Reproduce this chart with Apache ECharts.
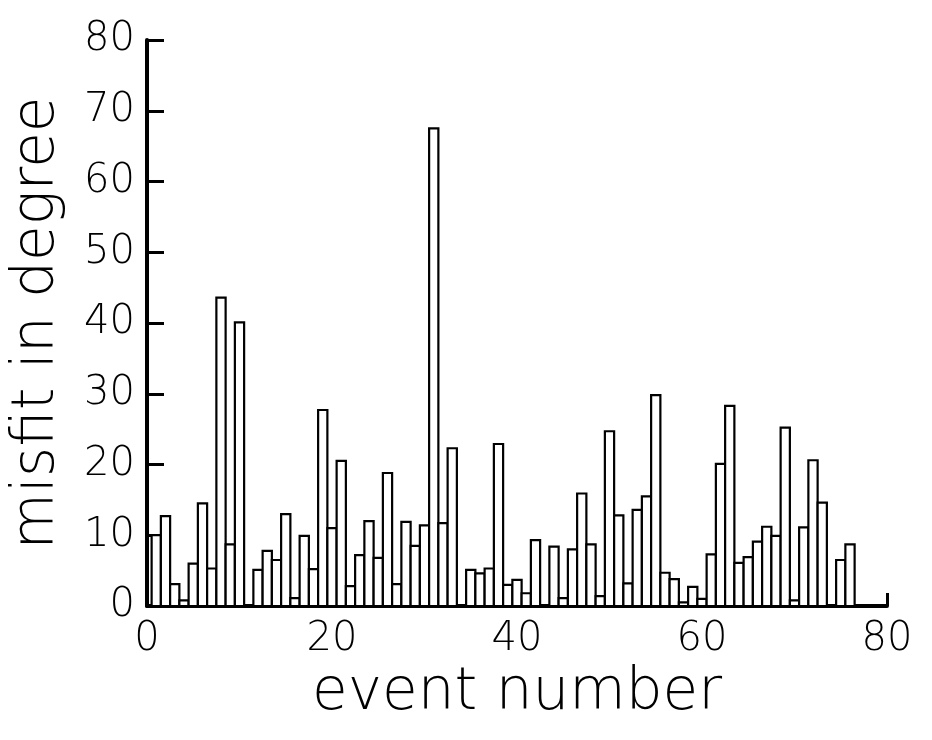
<!DOCTYPE html>
<html>
<head>
<meta charset="utf-8">
<script src="https://cdn.jsdelivr.net/npm/echarts@6/dist/echarts.min.js"></script>
<style>
html,body{margin:0;padding:0;background:#fff;}
#chart{width:932px;height:740px;}
</style>
</head>
<body>
<div id="chart"></div>
<script>
// Event numbers (x) and misfit values in degrees (y)
const events = [1,2,3,4,5,6,7,8,9,10,11,12,13,14,15,16,17,18,19,20,
  21,22,23,24,25,26,27,28,29,30,31,32,33,34,35,36,37,38,39,40,
  41,42,43,44,45,46,47,48,49,50,51,52,53,54,55,56,57,58,59,60,
  61,62,63,64,65,66,67,68,69,70,71,72,73,74,75,76];
const misfit = [10,12.7,3.1,0.8,6.0,14.5,5.3,43.6,8.7,40.1,
  0,5.1,7.8,6.5,13.0,1.1,9.9,5.2,27.7,11.0,
  20.5,2.8,7.2,12.0,6.8,18.8,3.1,11.9,8.5,11.4,
  67.5,11.7,22.3,0,5.1,4.6,5.3,22.9,3.0,3.7,
  1.8,9.3,0,8.4,1.1,8.0,15.9,8.7,1.4,24.7,
  12.8,3.2,13.6,15.5,29.8,4.7,3.8,0.5,2.7,1.0,
  7.3,20.1,28.3,6.1,6.9,9.1,11.2,9.9,25.2,0.8,
  11.1,20.6,14.6,0,6.5,8.7];
const xTicks = [0,20,40,60,80];
const yTicks = [0,10,20,30,40,50,60,70,80];

const data = events.map((e,i)=>[e, misfit[i]]);
const font = '"DejaVu Sans", sans-serif';

const chart = echarts.init(document.getElementById('chart'), null, {renderer:'canvas'});
chart.setOption({
  backgroundColor:'#fff',
  animation:false,
  grid:{left:147, right:45, top:40, bottom:134, containLabel:false, outerBoundsMode:'none'},
  xAxis:[{
    type:'value', min:xTicks[0], max:xTicks[xTicks.length-1], interval:xTicks[1]-xTicks[0],
    name:'event number', nameLocation:'middle', nameGap:50,
    nameTextStyle:{fontFamily:font, fontWeight:200, fontSize:58, color:'#000'},
    axisLine:{show:true, onZero:false, lineStyle:{color:'#000', width:4}},
    axisTick:{show:false},
    splitLine:{show:false},
    axisLabel:{fontFamily:font, fontWeight:200, fontSize:40, color:'#000', margin:14}
  },{
    type:'value', min:xTicks[0], max:xTicks[xTicks.length-1], interval:xTicks[xTicks.length-1]-xTicks[0],
    position:'bottom',
    axisLine:{show:false},
    axisTick:{show:true, inside:true, length:13, lineStyle:{color:'#000', width:3}},
    axisLabel:{show:false}, splitLine:{show:false}
  }],
  yAxis:{
    type:'value', min:yTicks[0], max:yTicks[yTicks.length-1], interval:yTicks[1]-yTicks[0],
    name:'misfit in degree', nameLocation:'middle', nameGap:80, nameRotate:90,
    nameTextStyle:{fontFamily:font, fontWeight:200, fontSize:58, color:'#000'},
    axisLine:{show:true, lineStyle:{color:'#000', width:4}},
    axisTick:{show:true, inside:true, length:17, lineStyle:{color:'#000', width:3}},
    splitLine:{show:false},
    axisLabel:{fontFamily:font, fontWeight:200, fontSize:40, color:'#000', margin:12}
  },
  series:[{
    type:'custom',
    xAxisIndex:0,
    data:data,
    renderItem:function(params, api){
      const x = api.value(0), y = api.value(1);
      const p0 = api.coord([x-0.5, y]);
      const p1 = api.coord([x+0.5, 0]);
      return {
        type:'rect',
        shape:{x:p0[0], y:p0[1], width:p1[0]-p0[0], height:p1[1]-p0[1]},
        style:{fill:'#fff', stroke:'#000', lineWidth:2.2}
      };
    },
    z:1
  }]
});
</script>
</body>
</html>
